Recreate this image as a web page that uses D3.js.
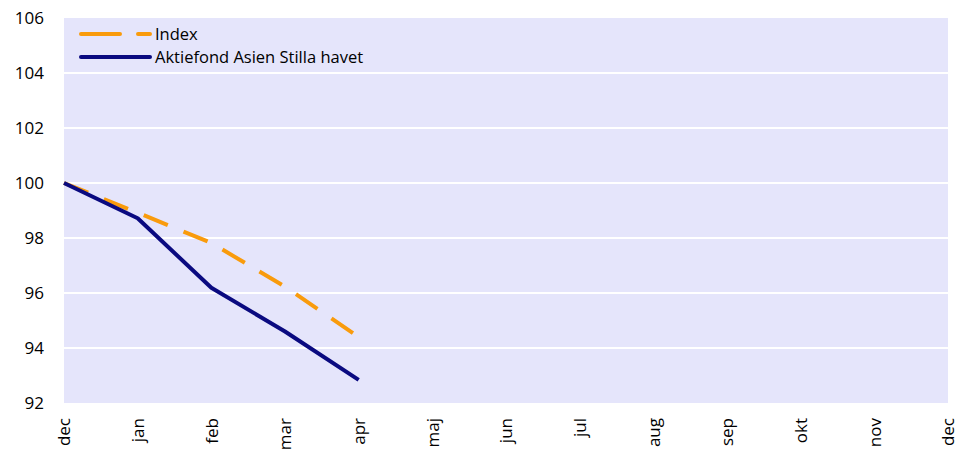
<!DOCTYPE html>
<html>
<head>
<meta charset="utf-8">
<script src="https://cdn.jsdelivr.net/npm/d3@7"></script>
<style>
  body { margin: 0; background: #fff; }
  svg text { font-family: "Open Sans", "Liberation Sans", sans-serif; fill: #000; }
</style>
</head>
<body>
<svg id="chart"></svg>
<script>
// Month labels along the x axis
const months = ["dec", "jan", "feb", "mar", "apr", "maj", "jun", "jul", "aug", "sep", "okt", "nov", "dec"];
// Series values (only first five months are known)
const indexValues = [100, 98.92, 97.82, 96.23, 94.4];
const fundValues = [100, 98.72, 96.19, 94.6, 92.84];
const yTicks = [92, 94, 96, 98, 100, 102, 104, 106];

const seriesNames = ["Index", "Aktiefond Asien Stilla havet"];

const width = 955;
const height = 452;
const margin = { top: 18, right: 7, bottom: 49, left: 64 };
const innerW = width - margin.left - margin.right;
const innerH = height - margin.top - margin.bottom;

const svg = d3.select("#chart")
  .attr("width", width)
  .attr("height", height);

const g = svg.append("g")
  .attr("transform", `translate(${margin.left}, ${margin.top})`);

// Scales
const x = d3.scaleLinear()
  .domain([0, months.length - 1])
  .range([0, innerW]);

const y = d3.scaleLinear()
  .domain([92, 106])
  .range([innerH, 0]);

// Plot background
g.append("rect")
  .attr("width", innerW)
  .attr("height", innerH)
  .attr("fill", "#e5e5fb");

// Gridlines
g.selectAll(".grid")
  .data(yTicks.filter(d => d > 92 && d < 106))
  .enter()
  .append("line")
  .attr("x1", 0)
  .attr("x2", innerW)
  .attr("y1", d => y(d))
  .attr("y2", d => y(d))
  .attr("stroke", "#fff")
  .attr("stroke-width", 2);

// Y axis
const yAxis = d3.axisLeft(y).tickValues(yTicks).tickSize(0).tickPadding(20);
g.append("g")
  .call(yAxis)
  .call(s => s.select(".domain").remove())
  .selectAll("text")
  .style("font-size", "17px");

// X axis labels (rotated)
const xAxis = d3.axisBottom(x)
  .tickValues(d3.range(months.length))
  .tickFormat(i => months[i])
  .tickSize(0);

g.append("g")
  .attr("transform", `translate(0, ${innerH})`)
  .call(xAxis)
  .call(s => s.select(".domain").remove())
  .selectAll("text")
  .style("font-size", "17px")
  .attr("transform", "rotate(-90)")
  .attr("text-anchor", "end")
  .attr("x", -15)
  .attr("y", 0)
  .attr("dy", "0.35em");

// Lines
const line = d3.line()
  .x((d, i) => x(i))
  .y(d => y(d));

g.append("path")
  .datum(indexValues)
  .attr("fill", "none")
  .attr("stroke", "#f99b0c")
  .attr("stroke-width", 4)
  .attr("stroke-dasharray", "26 17")
  .attr("d", line);

g.append("path")
  .datum(fundValues)
  .attr("fill", "none")
  .attr("stroke", "#0a0a80")
  .attr("stroke-width", 4)
  .attr("stroke-linejoin", "round")
  .attr("d", line);

// Legend
const legend = g.append("g").attr("transform", "translate(17, 16)");
const legendItems = [
  { name: seriesNames[0], color: "#f99b0c", dash: "39 18" },
  { name: seriesNames[1], color: "#0a0a80", dash: null }
];

legendItems.forEach((item, i) => {
  const row = legend.append("g").attr("transform", `translate(0, ${i * 23})`);
  row.append("line")
    .attr("x1", 0)
    .attr("x2", 69)
    .attr("y1", 0)
    .attr("y2", 0)
    .attr("stroke", item.color)
    .attr("stroke-width", 4)
    .attr("stroke-linecap", "round")
    .attr("stroke-dasharray", item.dash);
  row.append("text")
    .attr("x", 74)
    .attr("y", 0)
    .attr("dy", "0.35em")
    .style("font-size", "16.5px")
    .text(item.name);
});
</script>
</body>
</html>
